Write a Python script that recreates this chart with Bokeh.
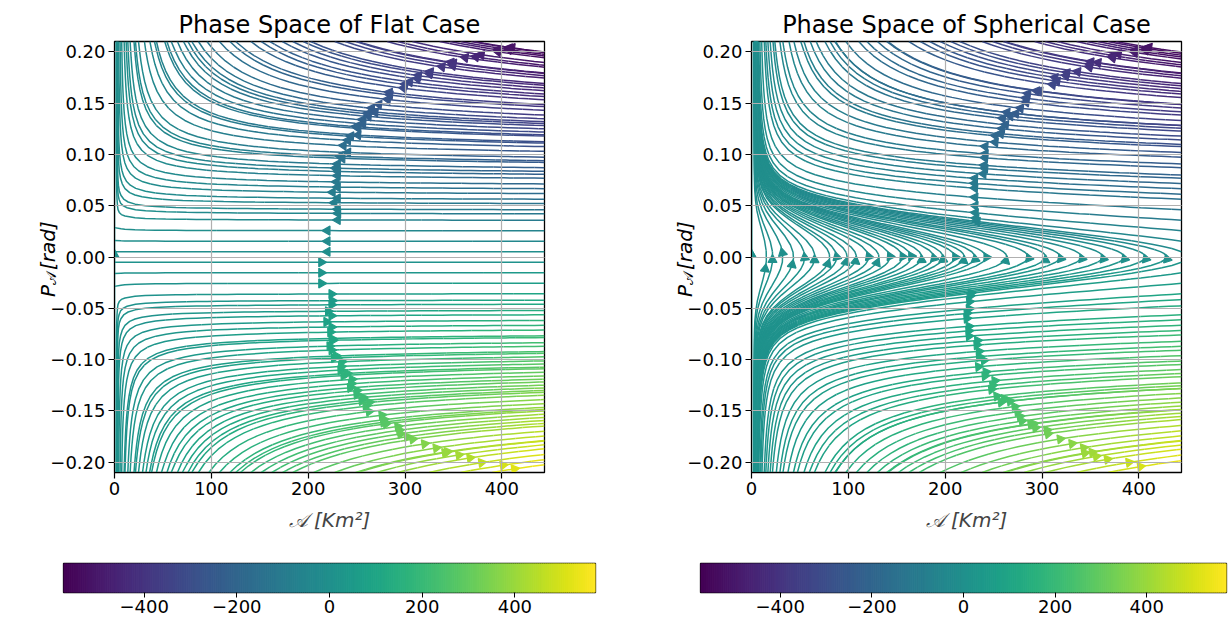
import math
import numpy as np
from bokeh.plotting import figure
from bokeh.layouts import row
from bokeh.layouts import column
from bokeh.models import FixedTicker, Range1d, CustomJSTickFormatter
from bokeh.core.properties import value
from bokeh.palettes import Viridis256
from bokeh.embed import file_html
from bokeh.resources import INLINE

# ---------------- texts and ticks ----------------
titles = ["Phase Space of Flat Case", "Phase Space of Spherical Case"]
x_label = "\U0001D49C [Km\u00b2]"
y_label_parts = ["P", "\U0001D49C", " [rad]"]
x_ticks = [0, 100, 200, 300, 400]
y_ticks = [-0.20, -0.15, -0.10, -0.05, 0.00, 0.05, 0.10, 0.15, 0.20]
y_tick_labels = ["\u22120.20", "\u22120.15", "\u22120.10", "\u22120.05", "0.00",
                 "0.05", "0.10", "0.15", "0.20"]
cbar_ticks = [-400, -200, 0, 200, 400]

# ---------------- phase-space extent ----------------
A_range = [0.0, 444.0]
P_range = [-0.21, 0.21]
grid_n = [100, 100]
A_floor = 0.05

# ---------------- field parameters ----------------
# dA/dt = -k A P                        (also the colour value of the lines)
# dP/dt =  k (a P^4 / (4 sqrt(A)) + g)  (g = 0 flat, g > 0 spherical)
k_rate = 6.156
curv_a = [540.0, 540.0]
curv_g = [0.0, 9.0e-4]
density = 1.4
broken = False

FONT = "DejaVu Sans"


class _Stop(Exception):
    pass


class _Out(Exception):
    pass


class _Occupied(Exception):
    pass


def gen_start(shape):
    ny, nx = shape
    xfirst, yfirst, xlast, ylast = 0, 1, nx - 1, ny - 1
    x, y = 0, 0
    d = 'right'
    for _ in range(nx * ny):
        yield x, y
        if d == 'right':
            x += 1
            if x >= xlast:
                xlast -= 1
                d = 'up'
        elif d == 'up':
            y += 1
            if y >= ylast:
                ylast -= 1
                d = 'left'
        elif d == 'left':
            x -= 1
            if x <= xfirst:
                xfirst += 1
                d = 'down'
        else:
            y -= 1
            if y <= yfirst:
                yfirst += 1
                d = 'right'


def streamlines(xs, ys, U, V, dens):
    ny, nx = U.shape
    dx = xs[1] - xs[0]
    dy = ys[1] - ys[0]
    ug = U / dx
    vg = V / dy
    spd = np.sqrt((ug / (nx - 1)) ** 2 + (vg / (ny - 1)) ** 2)
    F = np.stack([spd, ug, vg], axis=-1)
    mnx = mny = int(30 * dens)
    mask = np.zeros((mny, mnx), dtype=np.int8)
    xg2m = (mnx - 1) / (nx - 1)
    yg2m = (mny - 1) / (ny - 1)
    state = {'cur': None, 'traj': []}

    def within(xi, yi):
        return 0 <= xi <= nx - 1 and 0 <= yi <= ny - 1

    def interp(xi, yi):
        x = int(xi)
        y = int(yi)
        xn = x if x == nx - 1 else x + 1
        yn = y if y == ny - 1 else y + 1
        xt = xi - x
        yt = yi - y
        a0 = F[y, x] * (1 - xt) + F[y, xn] * xt
        a1 = F[yn, x] * (1 - xt) + F[yn, xn] * xt
        return a0 * (1 - yt) + a1 * yt

    def make_f(sign):
        def f(xi, yi):
            if not within(xi, yi):
                raise _Out
            s, u, v = interp(xi, yi)
            if s == 0:
                raise _Stop
            return sign * u / s, sign * v / s
        return f

    def g2m(xi, yi):
        return int(round(xi * xg2m)), int(round(yi * yg2m))

    def mask_update(xm, ym):
        if state['cur'] != (xm, ym):
            if mask[ym, xm] == 0:
                state['traj'].append((ym, xm))
                mask[ym, xm] = 1
                state['cur'] = (xm, ym)
            elif broken:
                raise _Occupied

    def update(xi, yi):
        if not within(xi, yi):
            raise _Occupied
        mask_update(*g2m(xi, yi))

    maxds = min(1.0 / mnx, 1.0 / mny, 0.1)
    maxerror = 0.003
    maxlength = 4.0

    def euler(traj, f):
        xi, yi = traj[-1]
        cx, cy = f(xi, yi)
        if cx == 0:
            dsx = np.inf
        elif cx < 0:
            dsx = xi / -cx
        else:
            dsx = (nx - 1 - xi) / cx
        if cy == 0:
            dsy = np.inf
        elif cy < 0:
            dsy = yi / -cy
        else:
            dsy = (ny - 1 - yi) / cy
        ds = min(dsx, dsy)
        traj.append((xi + cx * ds, yi + cy * ds))
        return ds, traj

    def rk12(x0, y0, f):
        ds = maxds
        stotal = 0.0
        xi, yi = x0, y0
        traj = []
        while True:
            try:
                if within(xi, yi):
                    traj.append((xi, yi))
                else:
                    raise _Out
                k1x, k1y = f(xi, yi)
                k2x, k2y = f(xi + ds * k1x, yi + ds * k1y)
            except _Out:
                if traj:
                    try:
                        ds, traj = euler(traj, f)
                        stotal += ds
                    except (_Stop, _Out):
                        pass
                break
            except _Stop:
                break
            dx1 = ds * k1x
            dy1 = ds * k1y
            dx2 = ds * 0.5 * (k1x + k2x)
            dy2 = ds * 0.5 * (k1y + k2y)
            err = math.hypot((dx2 - dx1) / (nx - 1), (dy2 - dy1) / (ny - 1))
            if err < maxerror:
                xi += dx2
                yi += dy2
                try:
                    update(xi, yi)
                except _Occupied:
                    break
                if stotal + ds > maxlength:
                    break
                stotal += ds
            if err == 0:
                ds = maxds
            else:
                ds = min(maxds, 0.85 * ds * (maxerror / err) ** 0.5)
        return stotal, traj

    def integrate(x0, y0):
        state['traj'] = []
        try:
            mask_update(*g2m(x0, y0))
        except _Occupied:
            return None
        stotal = 0.0
        pts = []
        s, t = rk12(x0, y0, make_f(-1))
        stotal += s
        pts += t[::-1]
        state['cur'] = g2m(x0, y0)
        s, t = rk12(x0, y0, make_f(1))
        stotal += s
        pts += t[1:]
        if stotal > 0.1 and len(pts) > 1:
            return pts
        for c in state['traj']:
            mask[c] = 0
        return None

    out = []
    for xm, ym in gen_start(mask.shape):
        if mask[ym, xm] == 0:
            xg = xm * (nx - 1) / (mnx - 1)
            yg = ym * (ny - 1) / (mny - 1)
            t = integrate(xg, yg)
            if t is not None:
                arr = np.array(t)
                out.append((xs[0] + arr[:, 0] * dx, ys[0] + arr[:, 1] * dy))
    return out


def compute_panel(i):
    xs = np.linspace(A_range[0], A_range[1], grid_n[0])
    ys = np.linspace(P_range[0], P_range[1], grid_n[1])
    AA, PP = np.meshgrid(xs, ys)
    r = np.sqrt(np.maximum(AA, A_floor))
    U = -k_rate * AA * PP
    V = k_rate * (curv_a[i] * PP ** 4 / (4 * r) + curv_g[i])
    vmin, vmax = float(U.min()), float(U.max())
    trajs = streamlines(xs, ys, U, V, density)
    return trajs, vmin, vmax


def pal_index(c, vmin, vmax):
    return np.clip(((c - vmin) / (vmax - vmin) * 256).astype(int), 0, 255)


FRAME_W = 430
FRAME_H = 431
TOP_B = 41
BOT_B = 76
TICK_LEN = 6


def make_panel(i, trajs, vmin, vmax, right_b):
    p = figure(frame_width=FRAME_W, frame_height=FRAME_H,
               x_range=Range1d(A_range[0], A_range[1]),
               y_range=Range1d(P_range[0], P_range[1]),
               output_backend="svg", toolbar_location=None,
               min_border_left=TICK_LEN, min_border_right=right_b,
               min_border_top=TOP_B, min_border_bottom=BOT_B)
    sx = FRAME_W / (A_range[1] - A_range[0])
    sy = FRAME_H / (P_range[1] - P_range[0])

    lx, ly, lc = [], [], []
    ax, ay, aang, acol = [], [], [], []
    for tx, ty in trajs:
        c = -k_rate * tx * ty
        cseg = c[:-1]
        q = (pal_index(cseg, vmin, vmax) // 4) * 4 + 2
        start = 0
        nseg = len(cseg)
        for j in range(1, nseg + 1):
            if j == nseg or q[j] != q[start]:
                lx.append(tx[start:j + 1].tolist())
                ly.append(ty[start:j + 1].tolist())
                lc.append(Viridis256[int(q[start])])
                start = j
        s = np.cumsum(np.hypot(np.diff(tx), np.diff(ty)))
        n = int(np.searchsorted(s, s[-1] / 2.0))
        n = min(n, len(tx) - 2)
        hx = 0.5 * (tx[n] + tx[n + 1])
        hy = 0.5 * (ty[n] + ty[n + 1])
        dxs = (tx[n + 1] - tx[n]) * sx
        dys = (ty[n + 1] - ty[n]) * sy
        L = math.hypot(dxs, dys)
        if L == 0:
            continue
        ux, uy = dxs / L, dys / L
        ax.append(hx - 3.0 * ux / sx)
        ay.append(hy - 3.0 * uy / sy)
        aang.append(math.atan2(uy, ux) - math.pi / 2)
        acol.append(Viridis256[int(pal_index(np.array([cseg[n]]), vmin, vmax)[0])])

    p.multi_line(xs=lx, ys=ly, line_color=lc, line_width=1.5)
    p.scatter(x=ax, y=ay, marker="triangle", size=9, angle=aang,
              fill_color=acol, line_color=acol, line_width=1.2)

    p.title.text = titles[i]
    p.title.align = "center"
    p.title.text_font = FONT
    p.title.text_font_size = "24px"
    p.title.text_font_style = "normal"
    p.title.text_color = "black"
    p.title.standoff = 6

    p.xaxis.ticker = FixedTicker(ticks=x_ticks)
    p.yaxis.ticker = FixedTicker(ticks=y_ticks)
    p.xaxis.formatter = CustomJSTickFormatter(code="return tick.toFixed(0);")
    # y tick labels are written next to the axis in the label strip
    p.yaxis.formatter = CustomJSTickFormatter(code="return '';")
    for ax_ in (p.xaxis, p.yaxis):
        ax_.major_label_text_font = FONT
        ax_.major_label_text_font_size = "18px"
        ax_.major_label_text_color = "black"
        ax_.major_tick_out = TICK_LEN
        ax_.major_tick_in = 0
        ax_.minor_tick_out = 0
        ax_.minor_tick_in = 0
        ax_.axis_line_color = "black"
        ax_.major_tick_line_color = "black"
        ax_.major_tick_line_width = 1.2
        ax_.major_label_standoff = 0
    p.xaxis.major_label_standoff = 3
    p.xaxis.axis_label = x_label
    p.xaxis.axis_label_text_font = FONT
    p.xaxis.axis_label_text_font_size = "20px"
    p.xaxis.axis_label_text_font_style = "italic"
    p.xaxis.axis_label_standoff = 10

    p.grid.grid_line_color = "#b0b0b0"
    p.grid.grid_line_width = 1.2
    p.grid.level = "guide"
    p.outline_line_color = "black"
    p.outline_line_width = 1.3
    return p


def make_ylabel(width, base_x):
    # strip left of each panel: y tick labels and the y-axis title
    f = figure(frame_width=width, frame_height=FRAME_H,
               x_range=Range1d(0, width), y_range=Range1d(P_range[0], P_range[1]),
               output_backend="svg", toolbar_location=None,
               min_border_left=0, min_border_right=0,
               min_border_top=TOP_B, min_border_bottom=BOT_B,
               x_axis_location=None, y_axis_location=None)
    f.outline_line_color = None
    f.grid.visible = False
    f.text(x=[width - 3.0] * len(y_ticks), y=y_ticks, text=y_tick_labels,
           text_font=value(FONT), text_font_size=value("18px"), text_color="black",
           text_align="right", text_baseline="middle")
    ppu = FRAME_H / (P_range[1] - P_range[0])
    y_start = -40.0 / ppu
    f.text(x=[base_x], y=[y_start], text=[y_label_parts[0]], angle=math.pi / 2,
           text_font=value(FONT), text_font_size=value("20px"),
           text_font_style=value("italic"), text_color="black",
           text_align="left", text_baseline="alphabetic")
    f.text(x=[base_x + 3.0], y=[y_start + 12.3 / ppu], text=[y_label_parts[1]],
           angle=math.pi / 2,
           text_font=value(FONT), text_font_size=value("14px"), text_color="black",
           text_align="left", text_baseline="alphabetic")
    f.text(x=[base_x], y=[y_start + 27.0 / ppu], text=[y_label_parts[2]], angle=math.pi / 2,
           text_font=value(FONT), text_font_size=value("20px"),
           text_font_style=value("italic"), text_color="black",
           text_align="left", text_baseline="alphabetic")
    return f


def make_cbar(vmin, vmax, frame_w, left_b, right_b):
    c = figure(frame_width=frame_w, frame_height=29,
               x_range=Range1d(vmin, vmax), y_range=Range1d(0, 1),
               output_backend="svg", toolbar_location=None,
               y_axis_location=None,
               min_border_left=left_b, min_border_right=right_b,
               min_border_top=15, min_border_bottom=30)
    edges = np.linspace(vmin, vmax, 257)
    c.quad(left=edges[:-1], right=edges[1:], bottom=0, top=1,
           fill_color=list(Viridis256), line_color=list(Viridis256), line_width=1)
    c.grid.visible = False
    c.xaxis.ticker = FixedTicker(ticks=cbar_ticks)
    c.xaxis.formatter = CustomJSTickFormatter(
        code="return (tick < 0 ? '\u2212' : '') + Math.abs(tick).toFixed(0);")
    c.xaxis.major_label_text_font = FONT
    c.xaxis.major_label_text_font_size = "18px"
    c.xaxis.major_label_text_color = "black"
    c.xaxis.major_tick_out = 5
    c.xaxis.major_tick_in = 0
    c.xaxis.minor_tick_out = 0
    c.xaxis.minor_tick_in = 0
    c.xaxis.major_label_standoff = 2
    c.xaxis.axis_line_color = None
    c.xaxis.major_tick_line_color = "black"
    c.outline_line_color = "black"
    c.outline_line_width = 1.3
    return c


t0, vmin0, vmax0 = compute_panel(0)
t1, vmin1, vmax1 = compute_panel(1)

LAB_W = 114 - TICK_LEN
lab1 = make_ylabel(LAB_W, 47)
p1 = make_panel(0, t0, vmin0, vmax0, right_b=93)
lab2 = make_ylabel(LAB_W, 47)
p2 = make_panel(1, t1, vmin1, vmax1, right_b=47)
c1 = make_cbar(vmin0, vmax0, frame_w=532, left_b=63, right_b=45)
c2 = make_cbar(vmin1, vmax1, frame_w=526, left_b=60, right_b=2)

layout = column(row(lab1, p1, lab2, p2), row(c1, c2))
open("out.html", "w").write(file_html(layout, INLINE, "Phase Space"))
